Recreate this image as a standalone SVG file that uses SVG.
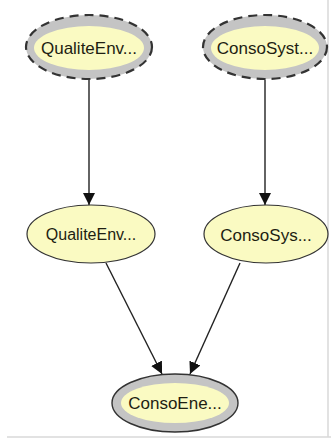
<svg xmlns="http://www.w3.org/2000/svg" width="331" height="441" viewBox="0 0 331 441">
<style>
.bg{fill:#ffffff}
.ring{fill:#c4c4c4}
.inner{fill:#fafac2}
.plain{fill:#fafac2;stroke:#333;stroke-width:1.2}
.dash{fill:none;stroke:#333;stroke-width:2.2;stroke-dasharray:9 6}
.solid{fill:none;stroke:#333;stroke-width:1.4}
.lbl{font-family:"Liberation Sans",Arial,sans-serif;font-size:17px;fill:#1e1e12;text-anchor:middle}
.edge{stroke:#222;stroke-width:1.4;fill:none}
.frame{stroke:#d8d8d8;stroke-width:1.5}
</style>
<defs>
<marker id="ah" markerWidth="12" markerHeight="13" refX="10" refY="5" orient="auto" markerUnits="userSpaceOnUse" viewBox="0 0 10 10">
<path d="M0,0 L10,5 L0,10 Z" fill="#111"/>
</marker>
</defs>
<rect class="bg" width="331" height="441"/>
<line class="frame" x1="328" y1="0" x2="328" y2="437"/>
<line class="frame" x1="7" y1="437" x2="331" y2="437"/>
<g id="connectors">
<line class="edge" x1="89" y1="80" x2="89" y2="205" marker-end="url(#ah)"/>
<line class="edge" x1="265" y1="80" x2="265" y2="205" marker-end="url(#ah)"/>
<line class="edge" x1="106" y1="263" x2="162" y2="374" marker-end="url(#ah)"/>
<line class="edge" x1="240" y1="263" x2="190" y2="374" marker-end="url(#ah)"/>
</g>
<g id="node-qualite-env-1">
<ellipse class="ring" cx="89" cy="47" rx="63" ry="32"/>
<ellipse class="inner" cx="89" cy="48" rx="55" ry="22"/>
<ellipse class="dash" cx="89" cy="47" rx="63" ry="32"/>
<text class="lbl" x="89" y="54">QualiteEnv...</text>
</g>
<g id="node-conso-syst">
<ellipse class="ring" cx="265" cy="47" rx="62" ry="32"/>
<ellipse class="inner" cx="265" cy="48" rx="54" ry="22"/>
<ellipse class="dash" cx="265" cy="47" rx="62" ry="32"/>
<text class="lbl" x="265" y="54">ConsoSyst...</text>
</g>
<g id="node-qualite-env-2">
<ellipse class="plain" cx="91" cy="234" rx="64" ry="29"/>
<text class="lbl" x="91" y="240" style="font-size:16px">QualiteEnv...</text>
</g>
<g id="node-conso-sys">
<ellipse class="plain" cx="266" cy="234" rx="62" ry="29"/>
<text class="lbl" x="266" y="241">ConsoSys...</text>
</g>
<g id="node-conso-ene">
<ellipse class="ring" cx="175" cy="403" rx="63" ry="29"/>
<ellipse class="inner" cx="175" cy="403" rx="54" ry="20"/>
<ellipse class="solid" cx="175" cy="403" rx="63" ry="29"/>
<text class="lbl" x="175" y="409">ConsoEne...</text>
</g>
</svg>
